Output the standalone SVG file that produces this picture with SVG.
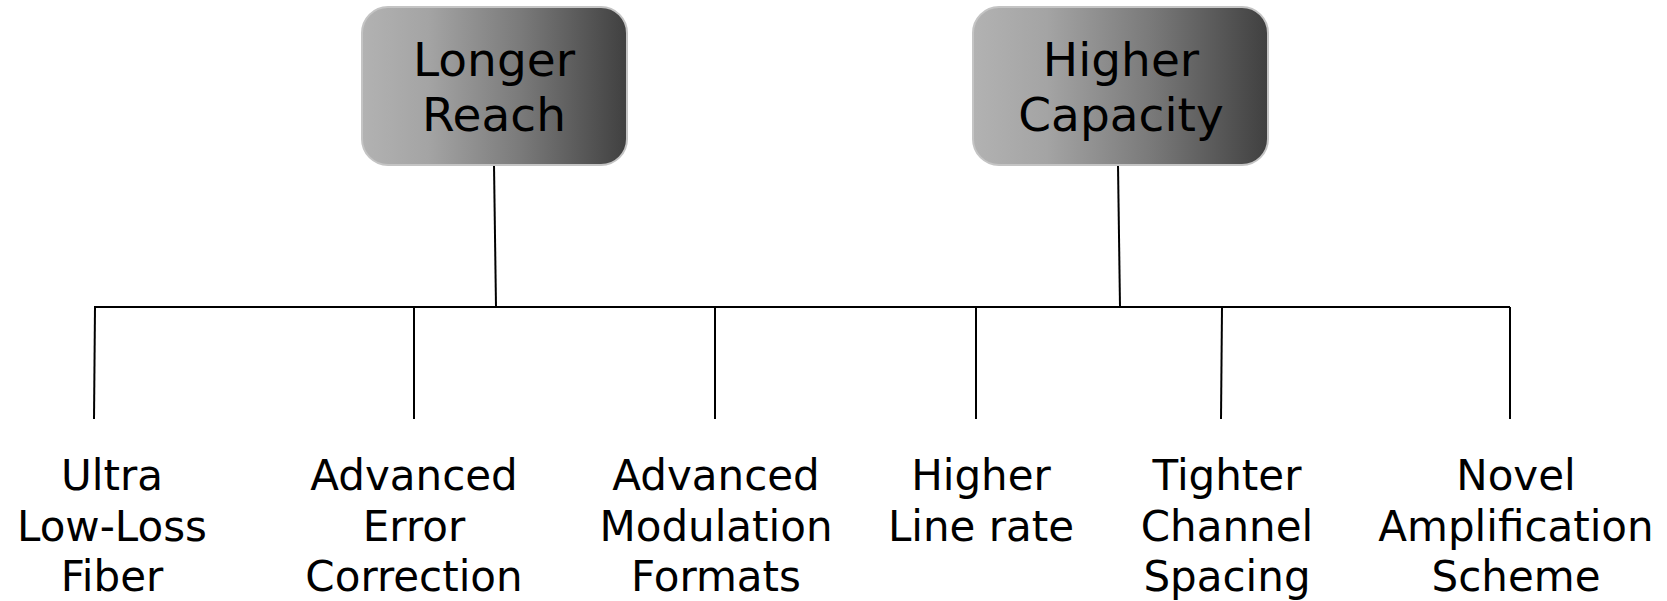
<svg xmlns="http://www.w3.org/2000/svg" width="1667" height="601" viewBox="0 0 1667 601">
<defs>
<linearGradient id="g" x1="0" y1="0" x2="1" y2="0">
<stop offset="0" stop-color="#b2b2b2"/>
<stop offset="0.25" stop-color="#a4a4a4"/>
<stop offset="0.6" stop-color="#7a7a7a"/>
<stop offset="1" stop-color="#404040"/>
</linearGradient>
<style>
.box{fill:url(#g);stroke:#c4c4c4;stroke-width:2}
.t{font-family:"DejaVu Sans",Verdana,sans-serif;fill:#000;text-anchor:middle}
.top{font-size:47px}
.lab{font-size:42px}
.c{stroke:#000;stroke-width:2;fill:none}
</style>
</defs>
<g id="connectors">
<line class="c" x1="494" y1="165" x2="496" y2="307"/>
<line class="c" x1="1118" y1="165" x2="1120" y2="307"/>
<line class="c" x1="94" y1="307" x2="1510" y2="307"/>
<line class="c" x1="95" y1="307" x2="94" y2="419"/>
<line class="c" x1="414" y1="307" x2="414" y2="419"/>
<line class="c" x1="715" y1="307" x2="715" y2="419"/>
<line class="c" x1="976" y1="307" x2="976" y2="419"/>
<line class="c" x1="1222" y1="307" x2="1221" y2="419"/>
<line class="c" x1="1510" y1="307" x2="1510" y2="419"/>
</g>
<g id="longer-reach">
<rect class="box" x="362" y="7" width="265" height="158" rx="26"/>
<text class="t top" x="494" y="76">Longer</text>
<text class="t top" x="494" y="131">Reach</text>
</g>
<g id="higher-capacity">
<rect class="box" x="973" y="7" width="295" height="158" rx="26"/>
<text class="t top" x="1121" y="76">Higher</text>
<text class="t top" x="1121" y="131">Capacity</text>
</g>
<g id="ultra-low-loss-fiber">
<text class="t lab" x="112" y="490">Ultra</text>
<text class="t lab" x="112" y="541">Low-Loss</text>
<text class="t lab" x="112" y="591">Fiber</text>
</g>
<g id="advanced-error-correction">
<text class="t lab" x="414" y="490">Advanced</text>
<text class="t lab" x="414" y="541">Error</text>
<text class="t lab" x="414" y="591">Correction</text>
</g>
<g id="advanced-modulation-formats">
<text class="t lab" x="716" y="490">Advanced</text>
<text class="t lab" x="716" y="541">Modulation</text>
<text class="t lab" x="716" y="591">Formats</text>
</g>
<g id="higher-line-rate">
<text class="t lab" x="981" y="490">Higher</text>
<text class="t lab" x="981" y="541">Line rate</text>
</g>
<g id="tighter-channel-spacing">
<text class="t lab" x="1227" y="490">Tighter</text>
<text class="t lab" x="1227" y="541">Channel</text>
<text class="t lab" x="1227" y="591">Spacing</text>
</g>
<g id="novel-amplification-scheme">
<text class="t lab" x="1516" y="490">Novel</text>
<text class="t lab" x="1516" y="541">Amplification</text>
<text class="t lab" x="1516" y="591">Scheme</text>
</g>
</svg>
